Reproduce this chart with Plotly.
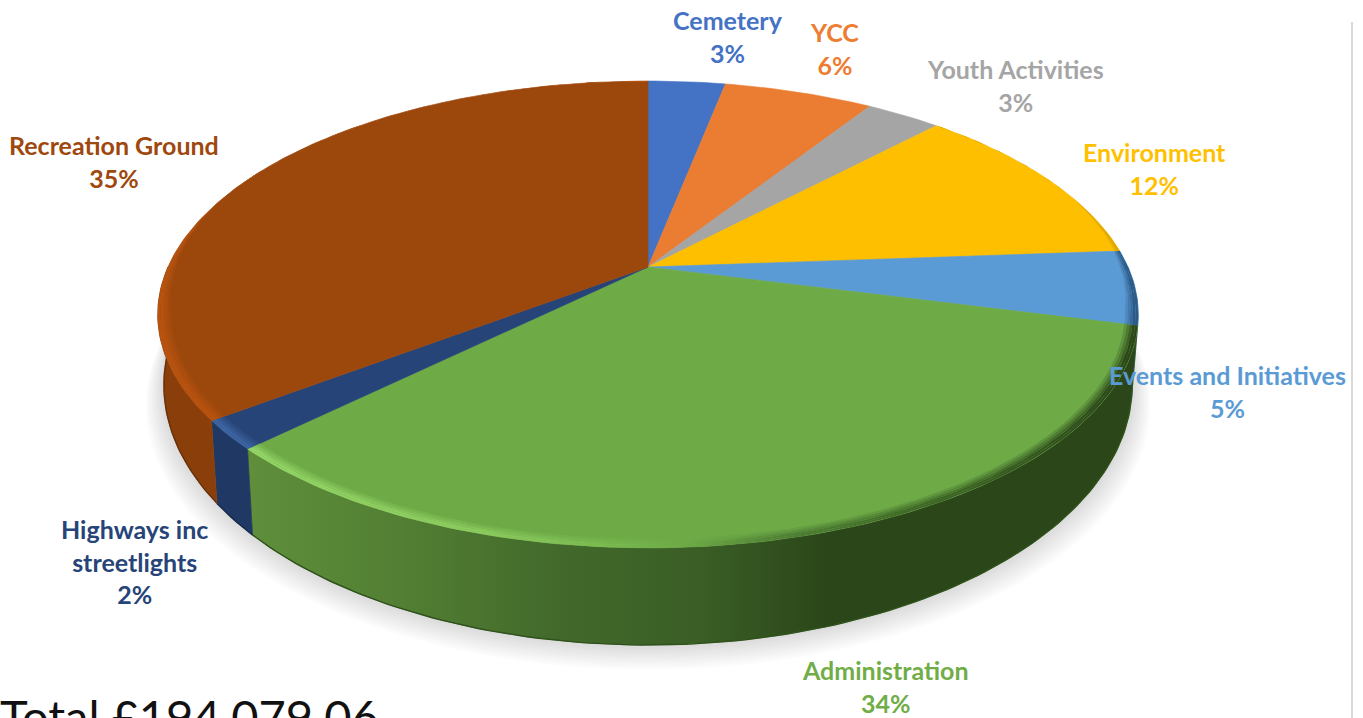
import math
import plotly.graph_objects as go

CATEGORIES = ["Cemetery", "YCC", "Youth Activities", "Environment",
              "Events and Initiatives", "Administration", "Highways inc<br>streetlights",
              "Recreation Ground"]
SHARES = [3.1, 6.0, 3.0, 11.75, 5.15, 33.7, 2.0, 35.3]
PERCENT_LABELS = ["3%", "6%", "3%", "12%", "5%", "34%", "2%", "35%"]
TOTAL_TEXT = "Total £194,079.06"

TOP_COLORS = ["#4472C4", "#EA7D32", "#A5A5A5", "#FDBF00", "#5B9BD5", "#6EAB47", "#264478", "#9C470C"]
TEXT_COLORS = ["#4472C4", "#ED7D31", "#A5A5A5", "#FFC000", "#5B9BD5", "#70AD47", "#264478", "#9E480E"]
LABEL_POS = [(728, 36), (834, 48), (1015, 85), (1154, 168), (1227, 391), (885, 686), (134, 561), (114, 161)]

# stops: (pixel x, colour) for the side wall and for the bevel highlight of each slice
WALL = {
    4: [(0, "#2C5A86"), (1363, "#2C5A86")],
    5: [(247, "#5F8F3B"), (400, "#527F33"), (560, "#42692B"), (700, "#3A5E26"), (830, "#2B4619"), (1363, "#2B4619")],
    6: [(0, "#1F3864"), (1363, "#1F3864")],
    7: [(0, "#8A3F0A"), (1363, "#8A3F0A")],
}
RIM = {
    3: [(0, "#D9A300"), (1363, "#D9A300")],
    4: [(0, "#2C5A86"), (1363, "#2C5A86")],
    5: [(247, "#93D566"), (480, "#8CCB5E"), (620, "#78B84F"), (690, "#6CA845"), (780, "#4F8035"), (900, "#3F6A27"), (1138, "#2B4619")],
    6: [(0, "#3C64A0"), (1363, "#3C64A0")],
    7: [(0, "#B8530F"), (1363, "#B8530F")],
}
W_PX, H_PX = 1363, 718
CX = 648
K = 0.2034
TOP = dict(c=267.0, p=-169.5, w=480.0)
BOT = dict(c=332.1, p=-181.7, w=474.0)


def project(theta_deg, geo, r=1.0):
    t = math.radians(theta_deg)
    u, v = r * math.sin(t), r * math.cos(t)
    d = 1 + K * v
    return CX + geo["w"] * u / d, (geo["c"] + geo["p"] * v) / d


def arc(a, b, geo, r=1.0, step=1.0):
    n = max(2, int(abs(b - a) / step) + 1)
    return [project(a + (b - a) * i / (n - 1), geo, r) for i in range(n)]


def scale(stops):
    lo, hi = 0, W_PX
    out = [[(x - lo) / (hi - lo), c] for x, c in stops]
    if out[0][0] > 0:
        out.insert(0, [0, out[0][1]])
    if out[-1][0] < 1:
        out.append([1, out[-1][1]])
    return out


def hex_rgb(h):
    return tuple(int(h[i:i + 2], 16) for i in (1, 3, 5))


def mix(a, b, f):
    ra, rb = hex_rgb(a), hex_rgb(b)
    return "#%02X%02X%02X" % tuple(round(x + (y - x) * f) for x, y in zip(ra, rb))


def poly(pts, **kw):
    return go.Scatter(x=[p[0] for p in pts] + [pts[0][0]], y=[p[1] for p in pts] + [pts[0][1]],
                      mode="lines", fill="toself", hoverinfo="skip", showlegend=False, **kw)


total = sum(SHARES)
edges = [0.0]
for s in SHARES:
    edges.append(edges[-1] + 360.0 * s / total)

fig = go.Figure()

# soft shadow under the pie
for i in range(1, 13):
    e = i * 1.5
    geo = dict(c=BOT["c"] + e * 1.1, p=BOT["p"], w=BOT["w"] + e)
    fig.add_trace(poly(arc(0, 360, geo, step=2), fillcolor="rgba(0,0,0,0.012)", line=dict(width=0)))

# side walls
for i, stops in WALL.items():
    a, b = max(edges[i], 90), min(edges[i + 1], 270)
    pts = arc(a, b, TOP) + arc(b, a, BOT)
    grad = dict(type="horizontal", colorscale=scale(stops), start=0, stop=W_PX)
    fig.add_trace(poly(pts, fillgradient=grad, line=dict(width=0.6, color=stops[-1][1] if i != 5 else "#3A5E26")))
    edge_col = mix(stops[0][1], "#000000", 0.25)
    bottom = arc(a, b, BOT)
    fig.add_trace(go.Scatter(x=[p[0] for p in bottom], y=[p[1] for p in bottom], mode="lines",
                             line=dict(width=1.4, color=edge_col if i != 5 else "#2E5219"),
                             hoverinfo="skip", showlegend=False))

# top faces
for i, col in enumerate(TOP_COLORS):
    pts = [project(0, TOP, 0.0)] + arc(edges[i], edges[i + 1], TOP)
    fig.add_trace(poly(pts, fillcolor=col, line=dict(width=0.6, color=col)))


# bevel rings along the visible edge
def taper(theta):
    v = math.cos(math.radians(theta))
    return max(0.0, min(1.0, (0.35 - v) / 0.55))


RINGS = 5
RIM_W = 0.026
for i, stops in RIM.items():
    a, b = edges[i], edges[i + 1]
    n = max(3, int((b - a) / 1.0))
    thetas = [a + (b - a) * j / (n - 1) for j in range(n)]
    for k in range(RINGS):
        f0, f1 = k / RINGS, (k + 1) / RINGS
        outer = [project(t, TOP, 1 - RIM_W * taper(t) * (1 - f1)) for t in thetas]
        inner = [project(t, TOP, 1 - RIM_W * taper(t) * (1 - f0)) for t in reversed(thetas)]
        amt = min(1.0, (k + 1) / (RINGS - 1))
        cols = [[p, mix(TOP_COLORS[i], c, amt)] for p, c in scale(stops)]
        grad = dict(type="horizontal", colorscale=cols, start=0, stop=W_PX)
        fig.add_trace(poly(outer + inner, fillgradient=grad, line=dict(width=0)))

# frame rule on the right
fig.add_trace(go.Scatter(x=[1352, 1352], y=[22, H_PX], mode="lines",
                         line=dict(color="#D9D9D9", width=2), hoverinfo="skip", showlegend=False))

for name, pct, col, (x, y) in zip(CATEGORIES, PERCENT_LABELS, TEXT_COLORS, LABEL_POS):
    fig.add_annotation(x=x, y=y, text=f"<b>{name}<br>{pct}</b>", showarrow=False, align="center",
                       xanchor="center", yanchor="middle",
                       font=dict(family="Lato", size=25, color=col))

fig.add_annotation(x=0, y=H_PX, xshift=-2, yshift=-28, text=TOTAL_TEXT, showarrow=False,
                   xanchor="left", yanchor="bottom",
                   font=dict(family="Lato", size=47, color="#111111"))

fig.update_layout(width=W_PX, height=H_PX, margin=dict(l=0, r=0, t=0, b=0),
                  paper_bgcolor="white", plot_bgcolor="white", showlegend=False,
                  xaxis=dict(range=[0, W_PX], visible=False, fixedrange=True),
                  yaxis=dict(range=[H_PX, 0], visible=False, fixedrange=True))
fig.write_html("out.html", config=dict(displayModeBar=False),
               post_script="document.body.style.margin='0';document.body.style.overflow='hidden';")
